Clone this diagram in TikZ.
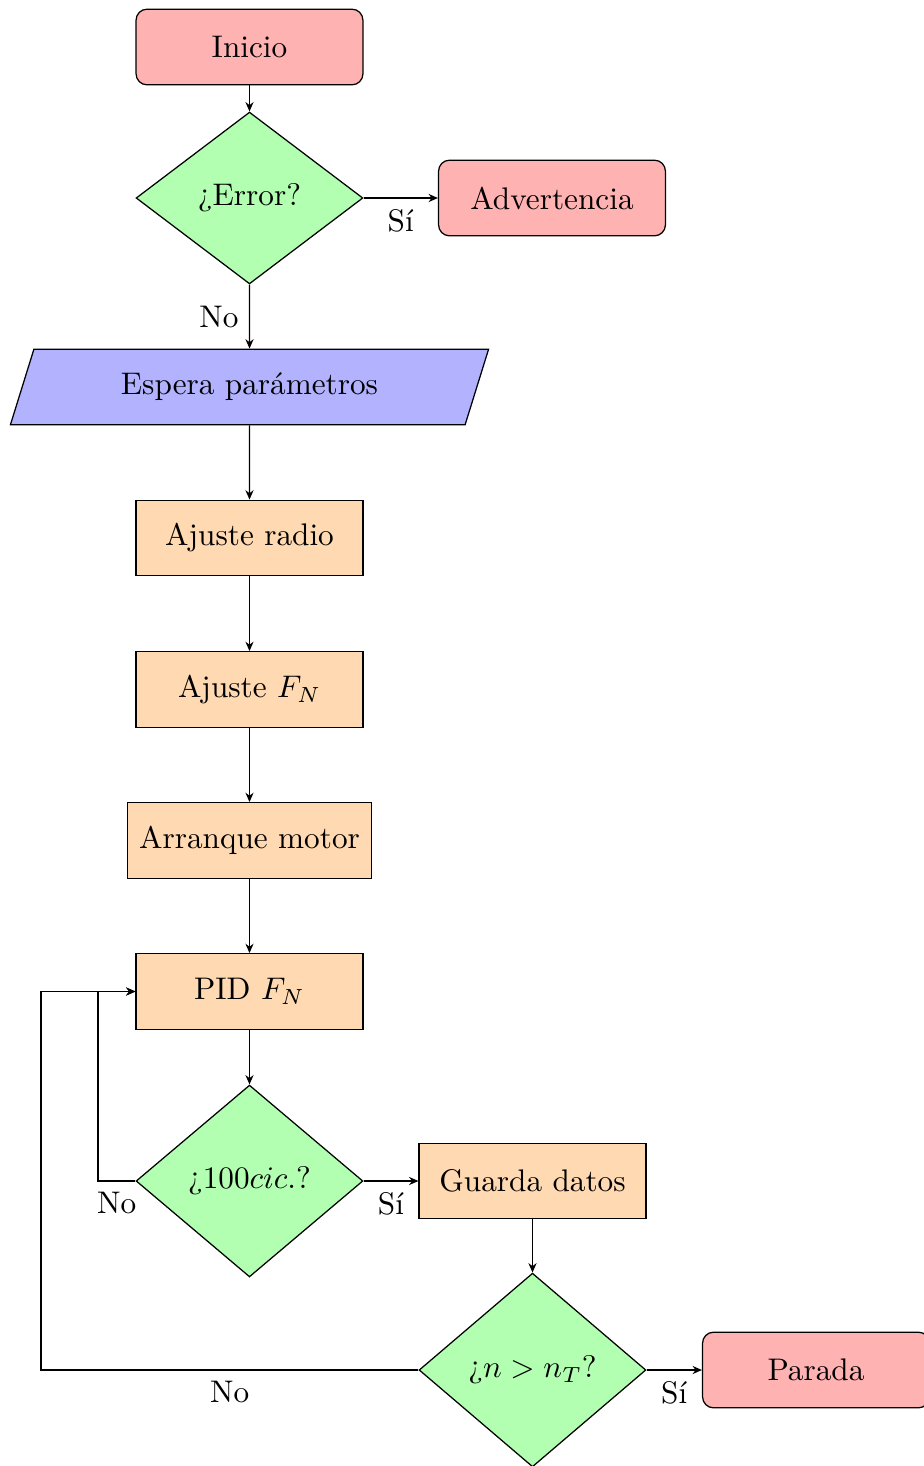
\documentclass[tikz,border=0pt]{standalone}
\usetikzlibrary{shapes.geometric,arrows.meta}
\begin{document}
\begin{tikzpicture}[x=0.32pt,y=-0.32pt,
  font=\fontsize{10}{12}\selectfont,
  >={Stealth[length=3pt,width=2.6pt]},
  terminal/.style={rectangle,rounded corners=3.5pt,draw,fill=red!30,
    minimum width=72.6pt,minimum height=24.2pt,inner sep=3.8pt},
  process/.style={rectangle,draw,fill=orange!30,
    minimum width=72.6pt,minimum height=24.2pt,inner sep=3.8pt},
  decision/.style={diamond,draw,fill=green!30,aspect=1,inner sep=0pt,
    minimum width=72.6pt},
  inputbox/.style={trapezium,draw,fill=blue!30,trapezium left angle=70,
    trapezium right angle=110,trapezium stretches=true,
    minimum width=153.9pt,minimum height=24.2pt,inner sep=2pt},
  flow/.style={->}]
\useasboundingbox (0,0) rectangle (924,1466);
\clip (0,0) rectangle (924,1466);

% nodes
\node[terminal] (inicio) at (249.5,47) {Inicio};
\node[decision,minimum height=55pt] (error) at (249.5,198) {¿Error?};
\node[terminal] (adv) at (552,198) {Advertencia};
\node[inputbox] (espera) at (249.5,387) {Espera parámetros};
\node[process] (radio) at (249.5,538) {Ajuste radio};
\node[process] (fn) at (249.5,689.5) {Ajuste $F_N$};
\node[process] (motor) at (249.5,840.5) {Arranque motor};
\node[process] (pid) at (249.5,991.5) {PID $F_N$};
\node[decision,minimum height=61.4pt] (cic) at (249.5,1181) {¿$100 cic.$?};
\node[process] (guarda) at (532.5,1181) {Guarda datos};
\node[decision,minimum height=62pt] (nt) at (532.5,1370) {¿$n > n_T$?};
\node[terminal] (parada) at (816,1370) {Parada};

% loop corners
\coordinate (loopA) at (98,1181);
\coordinate (loopB) at (41,1370);

% connectors
\draw[flow] (inicio) -- (error);
\draw[flow] (error.east) -- node[below]{Sí} (adv.west);
\draw[flow] (error.south) -- node[left]{No} (espera.north);
\draw[flow] (espera) -- (radio);
\draw[flow] (radio) -- (fn);
\draw[flow] (fn) -- (motor);
\draw[flow] (motor) -- (pid);
\draw[flow] (pid) -- (cic.north);
\draw[flow] (cic.east) -- node[below]{Sí} (guarda.west);
\draw[flow] (guarda) -- (nt.north);
\draw[flow] (nt.east) -- node[below]{Sí} (parada.west);
\draw[flow] (cic.west) -- node[below]{No} (loopA) |- (pid.west);
\draw[flow] (nt.west) -- node[below]{No} (loopB) |- (pid.west);
\end{tikzpicture}
\end{document}
